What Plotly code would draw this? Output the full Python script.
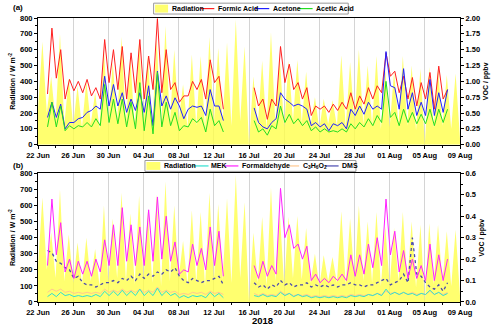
import pandas as pd
import plotly.graph_objects as go
from plotly.subplots import make_subplots

# ---- data ----
# radiation, W m-2, every 12 h from 22 Jun 00:00 (night minimum, noon peak)
radiation = [
    220, 650, 200, 430, 150, 700, 130, 420,   # 22-25 Jun
    120, 370, 110, 400, 130, 330, 100, 600,   # 26-29 Jun
    120, 520, 150, 680, 130, 550, 110, 660,   # 30 Jun-03 Jul
    140, 560, 120, 670, 100, 750, 130, 600,   # 04-07 Jul
    150, 380, 110, 570, 120, 560, 100, 680,   # 08-11 Jul
    130, 610, 140, 645, 120, 790, 150, 620,   # 12-15 Jul
    0, 430, 120, 530, 100, 710, 130, 550,     # 16-19 Jul
    110, 530, 150, 535, 140, 460, 120, 300,   # 20-23 Jul
    100, 290, 130, 280, 120, 565, 110, 520,   # 24-27 Jul
    140, 600, 130, 500, 120, 560, 100, 470,   # 28-31 Jul
    110, 460, 130, 560, 120, 500, 90, 480,    # 01-04 Aug
    0, 490, 110, 480, 120, 440, 100, 450,     # 05-08 Aug
    40,
]

# VOC, ppbv, every 12 h (02:00 / 14:00); part 1 from 23 Jun, part 2 from 16 Jul 14:00
formic_1 = [0.80, 1.84, 1.05, 1.50, 0.72, 1.03, 0.85, 1.00, 0.82, 1.03, 0.77, 0.90, 0.72, 1.66,
            0.98, 1.50, 0.87, 1.55, 0.72, 1.45, 0.82, 1.66, 0.72, 1.40, 0.87, 1.99, 0.82, 1.50,
            0.87, 0.98, 0.67, 0.77, 0.77, 1.00, 0.87, 1.03, 0.72, 1.34, 0.98, 1.08, 0.56]
formic_2 = [0.90, 0.61, 0.72, 0.40, 0.72, 0.61, 1.55, 0.98, 1.27, 0.87, 0.98, 0.72, 0.90, 0.46,
            0.61, 0.56, 0.61, 0.51, 0.64, 0.54, 0.67, 0.56, 0.82, 0.56, 0.77, 0.64, 0.90, 0.72,
            0.93, 0.82, 1.45, 1.08, 1.16, 0.82, 1.08, 0.72, 1.06, 0.61, 0.98, 0.72, 1.14, 0.56,
            1.24, 0.72, 0.87]
acetone_1 = [0.43, 0.67, 0.43, 0.64, 0.25, 0.35, 0.35, 0.41, 0.43, 0.51, 0.54, 0.61, 0.56, 1.08,
             0.61, 0.95, 0.61, 0.82, 0.51, 0.72, 0.54, 0.82, 0.51, 0.93, 0.30, 1.16, 0.61, 0.77,
             0.56, 0.74, 0.61, 0.41, 0.56, 0.61, 0.59, 0.61, 0.46, 0.87, 0.61, 0.61, 0.38]
acetone_2 = [0.58, 0.35, 0.28, 0.25, 0.35, 0.41, 0.82, 0.72, 0.67, 0.61, 0.64, 0.61, 0.56, 0.30,
             0.35, 0.28, 0.33, 0.22, 0.33, 0.30, 0.35, 0.25, 0.56, 0.46, 0.61, 0.48, 0.67, 0.56,
             0.61, 0.56, 1.47, 0.93, 0.90, 0.56, 1.20, 0.56, 0.82, 0.46, 0.67, 0.46, 1.03, 0.46,
             0.82, 0.51, 0.87]
acetic_1 = [0.28, 0.67, 0.28, 0.61, 0.22, 0.30, 0.25, 0.30, 0.28, 0.35, 0.28, 0.41, 0.30, 0.95,
            0.35, 0.72, 0.33, 0.72, 0.28, 0.67, 0.25, 0.98, 0.22, 0.77, 0.17, 1.14, 0.28, 0.67,
            0.30, 0.51, 0.22, 0.30, 0.28, 0.41, 0.35, 0.43, 0.20, 0.56, 0.30, 0.38, 0.20]
acetic_2 = [0.38, 0.20, 0.25, 0.15, 0.30, 0.25, 0.61, 0.35, 0.48, 0.33, 0.41, 0.30, 0.38, 0.22,
            0.28, 0.20, 0.25, 0.20, 0.22, 0.20, 0.25, 0.20, 0.33, 0.25, 0.35, 0.28, 0.41, 0.30,
            0.46, 0.35, 1.00, 0.43, 0.51, 0.30, 0.56, 0.35, 0.51, 0.33, 0.48, 0.33, 0.56, 0.30,
            0.56, 0.35, 0.56]

mek_1 = [0.025, 0.04, 0.025, 0.045, 0.03, 0.035, 0.025, 0.03, 0.025, 0.03, 0.025, 0.035, 0.025, 0.05,
         0.03, 0.05, 0.03, 0.055, 0.03, 0.05, 0.03, 0.06, 0.03, 0.05, 0.03, 0.065, 0.03, 0.05,
         0.03, 0.04, 0.02, 0.03, 0.02, 0.03, 0.025, 0.03, 0.02, 0.045, 0.025, 0.04, 0.02]
mek_2 = [0.03, 0.025, 0.035, 0.025, 0.03, 0.025, 0.045, 0.03, 0.04, 0.025, 0.035, 0.025, 0.03, 0.02,
         0.025, 0.02, 0.025, 0.02, 0.025, 0.02, 0.025, 0.02, 0.03, 0.025, 0.03, 0.025, 0.035, 0.03,
         0.04, 0.03, 0.06, 0.035, 0.045, 0.035, 0.045, 0.035, 0.04, 0.03, 0.04, 0.035, 0.055, 0.035,
         0.045, 0.03, 0.04]
formaldehyde_1 = [0.17, 0.48, 0.22, 0.37, 0.14, 0.20, 0.11, 0.19, 0.13, 0.19, 0.12, 0.20, 0.14, 0.29,
                  0.17, 0.36, 0.17, 0.44, 0.19, 0.36, 0.17, 0.35, 0.17, 0.43, 0.19, 0.49, 0.20, 0.40,
                  0.19, 0.28, 0.13, 0.15, 0.14, 0.27, 0.17, 0.25, 0.15, 0.35, 0.17, 0.33, 0.12]
formaldehyde_2 = [0.17, 0.11, 0.19, 0.12, 0.17, 0.13, 0.53, 0.30, 0.36, 0.25, 0.27, 0.20, 0.26, 0.10,
                  0.13, 0.09, 0.11, 0.09, 0.12, 0.10, 0.13, 0.10, 0.22, 0.12, 0.22, 0.13, 0.27, 0.16,
                  0.30, 0.17, 0.48, 0.22, 0.33, 0.14, 0.24, 0.11, 0.20, 0.11, 0.17, 0.10, 0.27, 0.10,
                  0.22, 0.10, 0.20]
c3h6o2_1 = [0.045, 0.06, 0.05, 0.06, 0.045, 0.05, 0.04, 0.045, 0.04, 0.045, 0.04, 0.045, 0.04, 0.06,
            0.045, 0.055, 0.045, 0.06, 0.045, 0.055, 0.045, 0.06, 0.045, 0.055, 0.045, 0.07, 0.045, 0.055,
            0.045, 0.05, 0.035, 0.04, 0.035, 0.045, 0.04, 0.045, 0.035, 0.05, 0.04, 0.045, 0.035]
c3h6o2_2 = [0.04, 0.03, 0.04, 0.03, 0.035, 0.03, 0.05, 0.035, 0.04, 0.03, 0.035, 0.03, 0.035, 0.025,
            0.03, 0.025, 0.03, 0.025, 0.03, 0.025, 0.03, 0.025, 0.035, 0.03, 0.035, 0.03, 0.035, 0.03,
            0.04, 0.035, 0.05, 0.04, 0.045, 0.035, 0.045, 0.035, 0.045, 0.035, 0.04, 0.035, 0.05, 0.035,
            0.045, 0.035, 0.045]
dms_1 = [0.24, 0.23, 0.19, 0.18, 0.16, 0.15, 0.11, 0.12, 0.09, 0.08, 0.08, 0.07, 0.08, 0.09,
         0.09, 0.10, 0.09, 0.11, 0.10, 0.12, 0.10, 0.13, 0.11, 0.13, 0.12, 0.14, 0.13, 0.15,
         0.14, 0.16, 0.12, 0.10, 0.09, 0.11, 0.10, 0.09, 0.10, 0.10, 0.11, 0.12, 0.08]
dms_2 = [0.09, 0.07, 0.08, 0.06, 0.08, 0.07, 0.10, 0.08, 0.09, 0.07, 0.08, 0.08, 0.09, 0.07,
         0.08, 0.07, 0.08, 0.07, 0.08, 0.07, 0.08, 0.08, 0.09, 0.08, 0.08, 0.07, 0.08, 0.08,
         0.09, 0.10, 0.11, 0.08, 0.09, 0.10, 0.13, 0.09, 0.30, 0.13, 0.12, 0.09, 0.07, 0.06,
         0.08, 0.05, 0.09]

FONT = "Liberation Sans, Arial, sans-serif"
YELLOW = "rgba(255,255,70,0.78)"
PATCH = "#ffff70"


def seg(part1, part2):
    # two measurement periods with a break between them
    t1 = pd.date_range("2018-06-23 02:00", periods=len(part1), freq="12h")
    t2 = pd.date_range("2018-07-16 14:00", periods=len(part2), freq="12h")
    x = list(t1) + [pd.Timestamp("2018-07-15")] + list(t2)
    y = list(part1) + [None] + list(part2)
    return x, y


rad_time = pd.date_range("2018-06-22 00:00", periods=len(radiation), freq="12h")

fig = make_subplots(rows=2, cols=1, specs=[[{"secondary_y": True}], [{"secondary_y": True}]])

panels = [
    (1, [("Formic Acid", formic_1, formic_2, "#ff2020", None),
         ("Acetone", acetone_1, acetone_2, "#2020ff", None),
         ("Acetic Acid", acetic_1, acetic_2, "#22dd22", None)]),
    (2, [("C3H6O2", c3h6o2_1, c3h6o2_2, "#ffc890", None),
         ("MEK", mek_1, mek_2, "#30e0d0", None),
         ("DMS", dms_1, dms_2, "#4a4ab0", "dot"),
         ("Formaldehyde", formaldehyde_1, formaldehyde_2, "#ff20ff", None)]),
]

for row, series in panels:
    fig.add_trace(go.Scatter(x=rad_time, y=radiation, mode="lines", line=dict(width=0),
                             fill="tozeroy", fillcolor=YELLOW, showlegend=False, hoverinfo="skip"),
                  row=row, col=1, secondary_y=False)
    for name, p1, p2, color, dash in series:
        x, y = seg(p1, p2)
        fig.add_trace(go.Scatter(x=x, y=y, mode="lines", name=name,
                                 line=dict(color=color, width=1 if dash is None else 1.3, dash=dash),
                                 showlegend=False),
                      row=row, col=1, secondary_y=True)

tickfont = dict(family=FONT, size=7.5, color="black", weight="bold")
titlefont = dict(family=FONT, size=7, color="black", weight="bold")
day = 86400000

xcommon = dict(type="date", range=["2018-06-22", "2018-08-09"], tick0="2018-06-22", dtick=4 * day,
               tickformat="%d %b", showgrid=True, gridcolor="#d4d4d4", gridwidth=1,
               showline=True, linecolor="black", linewidth=1, mirror=True,
               ticks="outside", ticklen=3, tickcolor="black", tickfont=tickfont,
               minor=dict(dtick=2 * day, tick0="2018-06-22", ticks="outside", ticklen=2,
                          tickcolor="black", showgrid=False),
               zeroline=False)
yleft = dict(range=[0, 800], dtick=100, showgrid=False, showline=True, linecolor="black",
             linewidth=1, ticks="outside", ticklen=3, tickcolor="black", tickfont=tickfont,
             minor=dict(dtick=50, ticks="outside", ticklen=2, tickcolor="black"),
             title=dict(text="Radiation / W m<sup>-2</sup>", font=titlefont, standoff=3),
             zeroline=False)
yright = dict(showgrid=False, showline=True, linecolor="black", linewidth=1,
              ticks="outside", ticklen=3, tickcolor="black", tickfont=tickfont,
              title=dict(text="VOC / ppbv", font=titlefont, standoff=3), zeroline=False)

top_dom = [0.554, 1.0]
bot_dom = [0.0, 0.453]

fig.update_layout(
    width=500, height=329, autosize=False,
    margin=dict(l=30, r=32, t=18, b=24),
    paper_bgcolor="white", plot_bgcolor="white",
    font=dict(family=FONT, color="black"),
    showlegend=False,
    xaxis=dict(xcommon, domain=[0, 1]),
    xaxis2=dict(xcommon, domain=[0, 1]),
    yaxis=dict(yleft, domain=top_dom),
    yaxis2=dict(yright, domain=top_dom, range=[0, 2.0], dtick=0.25, tickformat=".2f",
                minor=dict(dtick=0.125, ticks="outside", ticklen=2, tickcolor="black")),
    yaxis3=dict(yleft, domain=bot_dom),
    yaxis4=dict(yright, domain=bot_dom, range=[0, 0.6], dtick=0.1, tickformat=".1f",
                minor=dict(dtick=0.05, ticks="outside", ticklen=2, tickcolor="black")),
)


def px_x(px):
    return (px - 30) / 438


def px_y(py):
    return (305 - py) / 287


shapes = []
annotations = []


def legend_box(x0, x1, y0, y1, items):
    shapes.append(dict(type="rect", xref="paper", yref="paper", layer="above",
                       x0=px_x(x0), x1=px_x(x1), y0=px_y(y1), y1=px_y(y0),
                       line=dict(color="#9a9a9a", width=1), fillcolor="white"))
    ym = (y0 + y1) / 2
    for kind, sx0, sx1, color, tx, label in items:
        if kind == "patch":
            shapes.append(dict(type="rect", xref="paper", yref="paper", layer="above",
                               x0=px_x(sx0), x1=px_x(sx1), y0=px_y(ym + 4), y1=px_y(ym - 4),
                               line=dict(width=0), fillcolor=color))
        else:
            shapes.append(dict(type="line", xref="paper", yref="paper", layer="above",
                               x0=px_x(sx0), x1=px_x(sx1), y0=px_y(ym), y1=px_y(ym),
                               line=dict(color=color, width=1.2)))
        annotations.append(dict(text=label, xref="paper", yref="paper", x=px_x(tx), y=px_y(ym),
                                xanchor="left", yanchor="middle", showarrow=False,
                                font=dict(family=FONT, size=7, color="black", weight="bold")))


legend_box(150, 352, 3, 14, [
    ("patch", 151.5, 165, PATCH, 166.5, "Radiation"),
    ("line", 199, 213, "#ff2020", 215, "Formic Acid"),
    ("line", 255, 270, "#2020ff", 271.5, "Acetone"),
    ("line", 300, 315, "#22dd22", 316.5, "Acetic Acid"),
])
legend_box(141, 360, 162, 173, [
    ("patch", 142.5, 157, PATCH, 158.5, "Radiation"),
    ("line", 190, 207, "#30e0d0", 208, "MEK"),
    ("line", 224, 238, "#ff20ff", 239.5, "Formaldehyde"),
    ("line", 287, 301, "#ffc890", 302.5, "C<sub>3</sub>H<sub>6</sub>O<sub>2</sub>"),
    ("line", 328, 342, "#4a4ab0", 343.5, "DMS"),
])

annotations.append(dict(text="(a)", xref="paper", yref="paper", x=px_x(2), y=px_y(7),
                        xanchor="left", yanchor="middle", showarrow=False,
                        font=dict(family=FONT, size=8, color="black", weight="bold")))
annotations.append(dict(text="(b)", xref="paper", yref="paper", x=px_x(2), y=px_y(167),
                        xanchor="left", yanchor="middle", showarrow=False,
                        font=dict(family=FONT, size=8, color="black", weight="bold")))
annotations.append(dict(text="2018", xref="paper", yref="paper", x=px_x(263), y=px_y(323.5),
                        xanchor="center", yanchor="middle", showarrow=False,
                        font=dict(family=FONT, size=9.5, color="black", weight="bold")))

fig.update_layout(shapes=shapes, annotations=annotations)

# page body margin would shift the figure, so drop it; no modebar in the picture
fig.write_html("out.html", config={"displayModeBar": False},
               post_script="document.body.style.margin='0px';")
